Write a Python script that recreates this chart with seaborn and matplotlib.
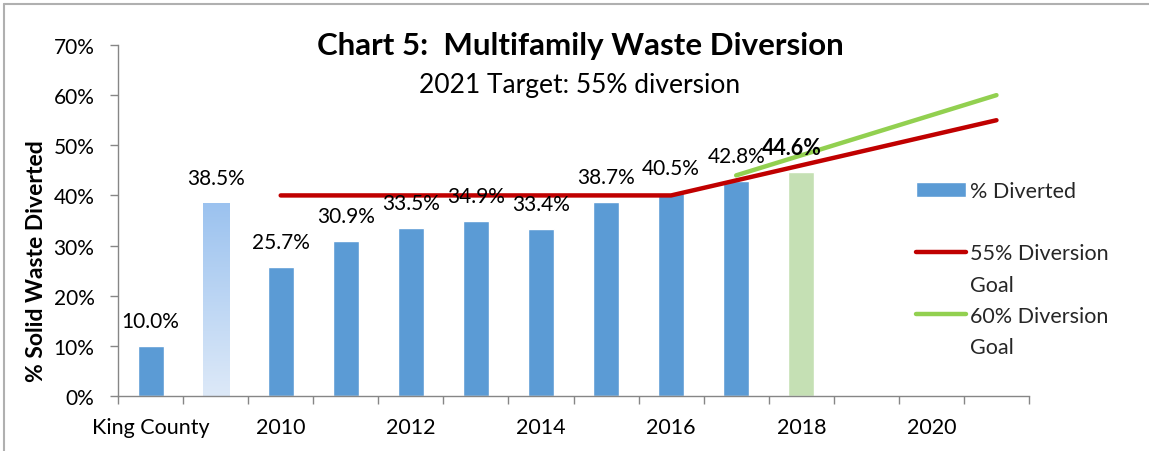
import numpy as np
import pandas as pd
import seaborn as sns
import matplotlib.pyplot as plt
from matplotlib.lines import Line2D
from matplotlib.patches import Patch
from matplotlib.colors import LinearSegmentedColormap
from matplotlib.ticker import FuncFormatter, FixedLocator

# chart data
categories = ['King County', 'Benchmark', '2010', '2011', '2012', '2013', '2014',
              '2015', '2016', '2017', '2018', '2019', '2020', '2021']
tick_labels = ['King County', '', '2010', '', '2012', '', '2014',
               '', '2016', '', '2018', '', '2020', '']
diverted = [10.0, 38.5, 25.7, 30.9, 33.5, 34.9, 33.4, 38.7, 40.5, 42.8, 44.6,
            np.nan, np.nan, np.nan]
goal_55 = [np.nan, np.nan, 40, 40, 40, 40, 40, 40, 40, 43, 46, 49, 52, 55]
goal_60 = [np.nan] * 9 + [44, 48, 52, 56, 60]

BLUE = '#5B9BD5'
RED = '#C00000'
GREEN = '#92D050'
LIGHT_GREEN = '#C5E0B4'
GRAY = '#868686'

W, H = 1149, 452

sns.set_theme(style='white')
plt.rcParams['font.family'] = ['Lato', 'DejaVu Sans']

fig = plt.figure(figsize=(W / 100, H / 100), dpi=100)
ax = fig.add_axes([118 / W, 1 - 397 / H, (1029 - 118) / W, (397 - 46) / H])

pos = np.arange(len(categories))
df = pd.DataFrame({'pos': pos, 'cat': categories, 'pct': diverted}).dropna()
palette = {c: BLUE for c in categories}
palette['Benchmark'] = '#BCD6F4'
palette['2018'] = LIGHT_GREEN

sns.barplot(data=df, x='pos', y='pct', hue='cat', palette=palette, native_scale=True,
            width=0.4, dodge=False, legend=False, saturation=1, ax=ax)

# gradient fill for the benchmark bar
for bar in ax.patches:
    cx = bar.get_x() + bar.get_width() / 2
    if abs(cx - 1) < 0.01:
        x0, w, h = bar.get_x(), bar.get_width(), bar.get_height()
        grad = np.linspace(0, 1, 256).reshape(-1, 1)
        cmap = LinearSegmentedColormap.from_list('g', ['#DDE9F8', '#9BC2EF'])
        im = ax.imshow(grad, extent=[x0, x0 + w, 0, h], origin='lower', cmap=cmap,
                       aspect='auto', zorder=bar.get_zorder() + 0.1)
        im.set_clip_path(bar)

line_df = pd.DataFrame({'pos': pos, 'g55': goal_55, 'g60': goal_60})
d55 = line_df.dropna(subset=['g55'])
d60 = line_df.dropna(subset=['g60'])
sns.lineplot(x=d55['pos'], y=d55['g55'], color=RED, lw=3.2, ax=ax,
             solid_capstyle='round', zorder=3)
sns.lineplot(x=d60['pos'], y=d60['g60'], color=GREEN, lw=3.2, ax=ax,
             solid_capstyle='round', zorder=3)

# data labels
for i, v in enumerate(diverted):
    if np.isnan(v):
        continue
    bold = categories[i] == '2018'
    ax.annotate(f'{v:.1f}%', (i, v), xytext=(-7 if bold else 0, 18),
                textcoords='offset points', ha='center', va='center',
                fontsize=15.5 if bold else 15, fontweight='bold' if bold else 'normal',
                color='black', zorder=4)

ax.set_xlim(-0.5, 13.5)
ax.set_ylim(0, 70)
ax.set_yticks(np.arange(0, 71, 10))
ax.yaxis.set_major_formatter(FuncFormatter(lambda v, p: f'{v:.0f}%'))
ax.set_xticks(pos)
ax.set_xticklabels(tick_labels)
ax.xaxis.set_minor_locator(FixedLocator(np.arange(-0.5, 14, 1)))
ax.tick_params(axis='x', which='major', length=0, pad=15, labelsize=15.5, colors='black')
ax.tick_params(axis='x', which='minor', length=6, width=1, color=GRAY, direction='out',
               bottom=True)
ax.tick_params(axis='y', length=6, width=1, color=GRAY, direction='out', left=True,
               pad=11, labelsize=15, labelcolor='black')
for s in ['top', 'right']:
    ax.spines[s].set_visible(False)
for s in ['left', 'bottom']:
    ax.spines[s].set_color(GRAY)
    ax.spines[s].set_linewidth(1)

ax.set_xlabel('')
ax.set_ylabel('% Solid Waste Diverted', fontsize=16.5, fontweight='bold', color='black')
ax.yaxis.set_label_coords(-0.078, 0.387)

fig.text(580 / W, 1 - 46 / H, 'Chart 5:  Multifamily Waste Diversion', ha='center',
         va='center', fontsize=22.5, fontweight='bold', color='black')
fig.text(580 / W, 1 - 85 / H, '2021 Target: 55% diversion', ha='center', va='center',
         fontsize=19, color='black')

# legend
blank = Line2D([], [], color='none')
handles = [Patch(facecolor=BLUE), blank,
           Line2D([], [], color=RED, lw=3.2, solid_capstyle='round'), blank,
           Line2D([], [], color=GREEN, lw=3.2, solid_capstyle='round'), blank]
labels = ['% Diverted', ' ', '55% Diversion', 'Goal', '60% Diversion', 'Goal']
fig.legend(handles, labels, loc='upper left', bbox_to_anchor=(916 / W, 1 - 182 / H),
           frameon=False, fontsize=15.5, handlelength=2.3, handletextpad=0.2,
           labelspacing=0.52, borderpad=0, borderaxespad=0)

# chart frame
fig.add_artist(Line2D([4 / W, 4 / W], [0, 1 - 4.5 / H], color='#B0B0B0', lw=1.5,
                      transform=fig.transFigure))
fig.add_artist(Line2D([4 / W, 1], [1 - 4.5 / H, 1 - 4.5 / H], color='#B0B0B0', lw=1.5,
                      transform=fig.transFigure))

fig.savefig('out.png', dpi=100)
